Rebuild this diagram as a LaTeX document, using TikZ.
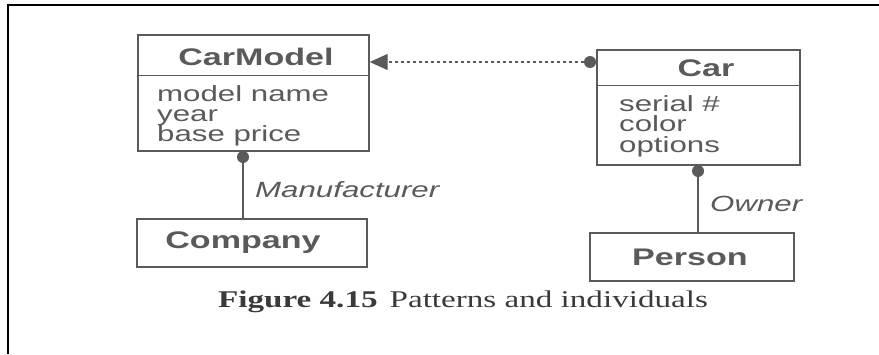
\documentclass[tikz,border=0pt]{standalone}
\usepackage{fontspec}
\setmainfont{Liberation Sans}[FakeStretch=1.42]
\newfontfamily\capfont{Liberation Serif}[FakeStretch=1.38]
\usetikzlibrary{arrows.meta}
\definecolor{ink}{HTML}{5A5A5A}
\definecolor{capink}{HTML}{3A3A3A}
\begin{document}
\begin{tikzpicture}[x=1pt,y=-1pt,
  box/.style={draw=ink, line width=1.4pt, inner sep=0pt},
  cname/.style={font=\fontsize{24}{24}\selectfont\bfseries, text=ink, inner sep=0pt},
  attr/.style={font=\fontsize{22}{22}\selectfont, text=ink, inner sep=0pt, anchor=base west},
  role/.style={font=\fontsize{22}{22}\selectfont\itshape, text=ink, inner sep=0pt, anchor=west},
  dot/.style={circle, fill=ink, inner sep=0pt, minimum size=12pt},
  link/.style={draw=ink, line width=1.4pt}]
\useasboundingbox (0,0) rectangle (879,354);
\draw[line width=1.5pt] (8,354) -- (8,5) -- (879,5);
% boxes
\node[box, minimum width=231pt, minimum height=116pt] (cm) at (253.5,93) {};
\draw[link] ([yshift=-41pt]cm.north west) -- ([yshift=-41pt]cm.north east);
\node[box, minimum width=203pt, minimum height=115pt] (car) at (698.5,107.5) {};
\draw[link] ([yshift=-36pt]car.north west) -- ([yshift=-36pt]car.north east);
\node[box, minimum width=230pt, minimum height=48pt] (co) at (252,243) {};
\node[box, minimum width=204pt, minimum height=48pt] (pe) at (692,257) {};
% texts
\node[cname] (cmname) at (256,57) {CarModel};
\node[attr] (a1) at (157,101) {model name};
\node[attr] (a2) at (157,121) {year};
\node[attr] (a3) at (157,141) {base price};
\node[cname] (carname) at (706,68) {Car};
\node[attr] (b1) at (619,111) {serial \#};
\node[attr] (b2) at (619,131) {color};
\node[attr] (b3) at (619,152) {options};
\node[cname] (coname) at ([xshift=-9pt]co.center) {Company};
\node[cname] (pename) at ([xshift=-2pt]pe.center) {Person};
% dots and links
\node[dot] (cmdot) at (243,157) {};
\node[dot] (cdot) at (590,62) {};
\node[dot] (cbdot) at (698,171) {};
\draw[link] (cmdot) -- (cmdot |- co.north);
\draw[link] (cbdot) -- (cbdot |- pe.north);
\draw[draw=ink, line width=1.2pt, dash pattern=on 3pt off 3pt, -{Triangle[length=18pt,width=16pt]}] (cdot) -- (cdot -| cm.east);
\node[role] (manu) at (255,190) {Manufacturer};
\node[role] (own) at (710,204) {Owner};
% caption
\node[font=\capfont\fontsize{24}{24}\selectfont, text=capink, anchor=base west, inner sep=0pt] (cap) at (218,307) {\textbf{Figure 4.15}\hspace{12pt}Patterns and individuals};
\end{tikzpicture}
\end{document}
